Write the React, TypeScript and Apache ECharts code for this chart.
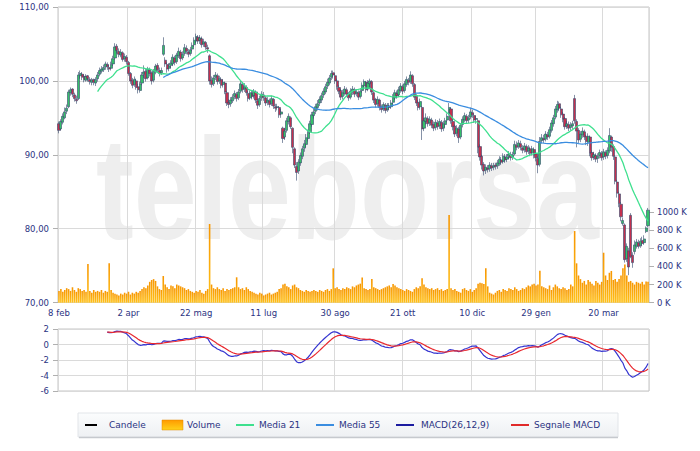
import React, { useEffect, useRef } from "react";
import * as echarts from "echarts";

// [open, close, low, high] per trading day
const CANDLES: number[][] = [
  [94.2,93.3,92.9,94.5],[93.5,94.5,93.3,94.8],[94.4,95.2,94.1,95.6],[95.0,95.8,94.8,96.4],[95.9,96.3,95.5,96.8],
  [96.5,98.5,96.3,98.8],[98.4,98.8,98.0,99.1],[98.9,98.2,97.8,99.0],[98.1,97.6,97.2,98.4],[97.5,97.3,96.9,98.0],
  [97.6,100.8,97.4,101.2],[100.7,101.0,100.3,101.4],[100.9,100.5,100.1,101.2],[100.6,100.2,99.8,100.9],[100.1,100.6,99.9,100.9],
  [100.7,100.3,99.9,100.8],[100.2,99.9,99.5,100.5],[99.8,100.1,99.4,100.4],[100.2,99.8,99.4,100.3],[99.7,100.2,99.3,100.5],
  [100.3,100.8,99.9,101.2],[100.9,101.4,100.6,101.8],[101.3,101.6,101.0,102.0],[101.5,101.8,101.2,102.2],[101.9,102.3,101.5,102.6],
  [102.2,101.9,101.5,102.5],[101.8,101.6,101.2,102.2],[101.7,102.2,101.4,102.6],[102.3,103.0,102.0,103.4],[103.1,104.6,102.9,105.1],
  [104.7,104.1,103.7,105.0],[104.0,103.6,103.2,104.4],[103.5,103.9,103.2,104.3],[103.8,102.9,102.6,104.0],[103.0,103.3,102.6,103.7],
  [103.2,102.6,102.2,103.5],[102.5,101.0,100.7,102.7],[101.0,100.0,99.6,101.2],[100.1,99.4,99.0,100.4],[99.5,100.2,99.2,100.6],
  [100.0,99.1,98.8,100.3],[99.2,98.8,98.3,99.6],[98.7,99.6,98.4,99.9],[99.7,100.8,99.4,101.2],[100.9,101.2,100.4,102.1],
  [101.3,100.3,99.9,101.6],[100.4,101.6,100.2,101.9],[101.5,101.0,100.6,101.8],[101.1,100.0,99.5,101.3],[100.1,101.3,99.8,101.6],
  [101.2,102.0,100.9,102.3],[102.1,101.5,101.2,102.4],[101.4,101.0,100.6,101.8],[101.1,101.4,100.8,101.8],[103.6,104.8,103.4,105.9],
  [102.8,102.3,101.9,103.2],[102.2,101.6,101.1,102.5],[101.7,102.0,101.3,102.4],[102.1,102.4,101.7,102.8],[102.3,103.2,102.0,103.6],
  [103.1,102.5,102.1,103.4],[102.6,103.5,102.3,103.8],[103.4,104.0,103.1,104.5],[103.9,103.0,102.6,104.2],[103.1,103.6,102.8,104.0],
  [103.7,104.5,103.4,105.0],[104.4,104.0,103.6,104.8],[103.9,103.6,103.2,104.3],[103.7,104.2,103.4,104.6],[104.3,104.8,104.0,105.2],
  [104.9,105.5,104.6,105.9],[105.4,106.0,105.1,106.4],[105.9,105.4,105.0,106.2],[105.5,105.8,105.0,106.2],[105.7,104.9,104.5,106.0],
  [105.0,105.3,104.6,105.7],[105.2,104.6,104.2,105.4],[104.5,104.3,103.8,104.9],[103.4,100.0,99.5,103.6],[100.1,99.5,99.1,100.6],
  [99.6,100.4,99.3,100.8],[100.5,100.8,100.1,101.2],[100.7,99.9,99.5,101.0],[100.0,100.3,99.6,100.7],[100.2,99.4,99.0,100.5],
  [99.5,99.8,99.1,100.2],[99.7,98.5,98.2,99.9],[98.4,97.0,96.6,98.6],[97.1,96.8,96.3,97.5],[96.9,97.4,96.5,97.8],
  [97.3,97.8,97.0,98.2],[97.9,98.3,97.5,98.7],[98.2,97.6,97.2,98.5],[97.7,98.5,97.4,98.9],[98.6,99.6,98.3,100.0],
  [99.5,98.8,98.4,99.8],[98.9,99.2,98.5,99.7],[99.1,98.4,98.0,99.4],[98.3,97.6,97.2,98.6],[97.7,98.4,97.4,98.7],
  [98.3,97.9,97.5,98.7],[98.0,98.6,97.6,98.9],[98.5,97.4,97.0,98.7],[97.3,96.7,96.2,97.6],[96.8,97.6,96.5,98.0],
  [97.7,98.2,97.3,98.6],[98.1,97.8,97.3,98.5],[97.7,97.0,96.6,98.0],[97.1,97.4,96.7,97.8],[97.3,96.8,96.4,97.6],
  [96.9,97.6,96.6,98.0],[97.5,96.6,96.2,97.7],[96.5,96.3,95.8,96.9],[96.4,96.5,96.0,96.9],[96.4,95.4,95.0,96.6],
  [95.5,95.8,95.0,96.2],[93.6,92.2,91.6,93.8],[92.4,93.2,92.0,93.6],[93.3,94.6,93.0,95.0],[94.5,95.2,94.1,95.6],
  [95.0,93.8,93.5,95.2],[93.6,91.0,90.2,93.7],[90.8,88.6,88.2,91.0],[88.4,87.6,86.5,89.0],[87.8,89.0,87.4,89.4],
  [88.9,89.9,88.5,90.3],[89.8,90.8,89.4,91.2],[90.9,91.5,90.4,92.0],[91.4,92.3,91.0,92.8],[92.2,93.0,91.8,93.4],
  [93.1,94.2,92.8,94.6],[94.1,95.4,93.8,95.8],[95.3,95.8,94.9,96.2],[95.9,96.5,95.5,96.9],[96.4,96.9,96.0,97.4],
  [97.0,97.5,96.6,97.9],[97.4,98.0,97.0,98.4],[98.1,98.6,97.7,99.0],[98.5,99.2,98.2,99.6],[99.3,99.8,98.9,100.3],
  [99.7,100.4,99.4,100.8],[100.5,101.0,100.1,101.4],[101.1,100.8,100.3,101.4],[100.7,100.0,99.6,101.0],[100.0,99.2,98.8,100.3],
  [99.1,98.6,98.2,99.4],[98.7,97.8,97.4,98.9],[97.9,98.4,97.5,98.8],[98.3,98.9,98.0,99.3],[98.8,98.2,97.8,99.1],
  [98.3,97.7,97.3,98.5],[97.8,98.6,97.5,99.0],[98.5,98.9,98.1,99.3],[98.8,98.2,97.8,99.1],[98.3,98.5,97.9,98.9],
  [98.4,97.8,97.4,98.7],[97.9,98.6,97.6,99.0],[98.7,99.4,98.4,99.8],[99.3,99.9,99.0,100.2],[99.8,98.8,98.4,100.0],
  [98.9,99.7,98.6,100.1],[99.6,100.0,99.1,100.3],[99.9,98.5,98.1,100.1],[98.4,97.4,97.0,98.6],[97.5,96.8,96.4,97.7],
  [96.9,97.5,96.5,97.9],[97.4,96.4,96.0,97.6],[96.5,96.1,95.7,96.8],[96.2,96.8,95.9,97.1],[96.7,96.0,95.6,97.0],
  [96.1,96.7,95.8,97.0],[96.6,96.4,96.0,97.0],[96.5,97.0,96.2,97.4],[97.1,97.8,96.8,98.2],[97.7,98.4,97.4,98.8],
  [98.3,98.0,97.6,98.7],[98.1,98.8,97.8,99.2],[98.7,99.3,98.4,99.7],[99.2,98.6,98.2,99.5],[98.7,99.6,98.4,100.0],
  [99.5,100.2,99.2,100.6],[100.1,99.8,99.4,100.4],[99.9,100.8,99.6,101.3],[100.7,99.6,99.2,100.9],[99.5,97.8,97.4,99.7],
  [97.9,97.0,96.6,98.2],[97.1,96.4,96.0,97.4],[96.5,97.2,96.1,97.6],[96.4,93.5,92.0,96.6],[93.6,94.6,93.2,95.0],
  [94.5,95.0,94.1,95.6],[94.9,94.2,93.8,95.2],[94.3,94.8,93.9,95.2],[94.7,94.0,93.6,95.0],[94.1,93.6,93.2,94.5],
  [93.7,94.4,93.3,94.8],[94.3,93.8,93.4,94.7],[93.9,94.5,93.5,94.9],[94.4,93.5,93.1,94.7],[93.6,94.2,93.2,94.6],
  [94.1,94.6,93.7,95.0],[94.7,95.2,94.4,95.6],[95.6,96.4,95.3,97.0],[96.2,94.6,94.2,96.4],[94.5,93.8,93.3,94.8],
  [93.9,92.8,92.4,94.1],[92.9,93.6,92.5,94.0],[93.5,92.3,91.6,93.8],[92.4,94.0,92.1,94.3],[94.1,94.8,93.7,95.2],
  [94.7,95.3,94.4,95.7],[95.2,94.6,94.2,95.5],[94.7,95.0,94.3,95.4],[95.1,95.8,94.8,96.4],[95.7,95.4,95.0,96.1],
  [95.3,94.7,94.3,95.6],[94.8,94.9,94.2,95.3],[94.6,91.0,90.2,94.8],[91.1,89.7,89.2,91.4],[89.8,88.6,88.0,90.0],
  [88.7,87.8,87.2,89.0],[87.9,88.3,87.4,88.7],[88.2,88.0,87.6,88.6],[88.1,88.6,87.7,89.0],[88.5,88.2,87.8,88.9],
  [88.3,88.5,87.9,88.9],[88.6,88.4,88.0,88.9],[88.5,88.9,88.1,89.3],[88.8,89.4,88.5,89.8],[89.3,89.0,88.6,89.7],
  [89.1,89.8,88.8,90.2],[89.7,89.3,88.9,90.1],[89.4,89.7,89.0,90.1],[89.8,90.1,89.4,90.5],[90.0,89.6,89.2,90.4],
  [89.7,90.0,89.3,90.4],[90.1,91.4,89.9,91.9],[91.3,91.0,90.6,91.8],[91.1,91.6,90.8,92.0],[91.5,91.0,90.6,91.9],
  [90.9,90.6,90.2,91.3],[90.7,91.2,90.3,91.6],[91.1,90.4,90.0,91.4],[90.5,90.9,90.1,91.3],[90.8,90.2,89.8,91.1],
  [90.3,90.8,89.9,91.2],[90.7,90.0,89.5,91.0],[90.1,89.6,89.1,90.4],[89.5,88.6,87.5,89.8],[88.7,91.8,88.4,92.4],
  [91.9,92.3,91.5,92.8],[92.2,92.0,91.6,92.7],[92.1,92.8,91.8,93.2],[92.7,92.4,92.0,93.1],[92.5,93.4,92.2,93.8],
  [93.3,94.3,93.0,94.7],[94.2,95.0,93.8,95.4],[95.1,96.2,94.8,96.6],[96.1,96.8,95.7,97.3],[96.9,96.3,95.9,97.2],
  [96.2,95.4,95.0,96.5],[95.5,94.8,94.4,95.8],[94.9,93.8,93.4,95.1],[93.9,94.2,93.5,94.6],[94.1,93.6,93.2,94.5],
  [93.7,94.0,93.3,94.4],[93.9,94.2,93.5,94.6],[97.6,94.6,94.2,98.1],[94.5,93.2,91.0,94.8],[93.3,92.0,91.6,93.6],
  [92.1,92.8,91.7,93.2],[92.7,93.2,92.3,93.7],[93.1,92.4,92.0,93.4],[92.5,91.8,91.3,92.7],[91.7,92.5,91.2,92.9],
  [92.4,90.2,89.8,92.6],[90.3,89.6,89.2,90.6],[89.7,90.0,89.3,90.4],[89.9,89.4,89.0,90.2],[89.5,89.8,88.9,90.2],
  [89.9,90.3,89.5,90.7],[90.2,89.6,89.2,90.5],[89.7,90.4,89.3,90.8],[90.3,89.8,89.4,90.6],[89.9,90.6,89.5,91.0],
  [90.5,92.6,90.2,93.6],[92.4,91.0,90.4,92.6],[91.1,89.8,89.3,91.4],[89.7,86.4,86.0,89.9],[86.3,84.8,84.2,86.6],
  [84.7,83.4,82.9,85.0],[83.3,81.6,81.0,83.6],[80.7,81.1,80.4,81.5],[80.5,75.8,75.4,80.7],[75.9,77.6,75.5,78.0],
  [77.0,74.8,73.7,77.4],[81.8,76.2,76.0,82.1],[76.4,75.4,74.7,76.8],[76.9,77.8,76.5,78.4],[77.6,78.2,77.3,78.6],
  [78.1,77.6,77.3,78.5],[77.7,78.3,77.4,78.7],[78.4,78.0,77.6,78.9],[78.1,78.6,77.8,79.1],[79.6,80.1,79.4,80.3],
  [80.4,82.5,80.2,82.8]
];

// volume in thousands
const VOLUME: number[] = [
  130,150,120,140,160,150,130,170,140,120,
  160,150,130,140,120,427,130,110,140,120,
  130,120,140,110,130,120,434,140,110,100,
  90,80,100,90,110,100,120,90,110,100,
  120,110,130,150,170,160,190,230,250,260,
  240,180,150,140,294,200,170,150,190,180,
  160,200,190,180,170,160,140,150,130,120,
  110,130,120,140,110,100,130,150,868,200,
  160,150,170,150,140,160,130,150,140,150,
  160,170,280,170,150,160,140,170,150,130,
  120,110,100,90,110,100,80,90,100,110,
  90,100,110,120,150,160,200,210,180,170,
  150,190,200,170,160,140,130,120,140,130,
  120,130,140,130,120,140,130,120,140,150,
  130,150,379,160,170,150,140,160,150,170,
  160,150,180,170,190,200,210,278,160,150,
  140,150,262,170,160,150,140,150,160,170,
  180,190,170,206,190,170,160,150,140,130,
  150,140,130,120,150,170,160,180,270,200,
  170,160,150,160,140,150,160,140,150,130,
  140,150,967,160,140,150,130,120,110,150,
  160,140,130,150,120,140,160,210,220,215,
  206,379,180,110,100,90,110,130,140,120,
  150,140,130,160,150,140,170,150,130,140,
  160,150,170,190,180,200,210,190,200,353,
  180,170,160,150,190,140,170,200,180,160,
  150,170,160,140,150,200,180,790,434,300,
  260,220,240,200,250,230,210,190,240,220,
  200,230,551,300,250,330,350,250,260,230,
  260,300,380,420,300,230,240,220,200,230,
  220,210,230,200,235,230
];

const TICK_LABELS = ["8 feb", "2 apr", "22 mag", "11 lug", "30 ago", "21 ott", "10 dic", "29 gen", "20 mar"];
const TICK_INDEX = [0, 36, 71, 106, 143, 178, 214, 247, 282];

const PRICE_TICKS = { min: 70, max: 110, interval: 10 };
const VOLUME_TICKS = { min: 0, max: 1000, interval: 200 };
const MACD_TICKS = { min: -6, max: 2, interval: 2 };

const TEXT = "#2b3382";
const FONT = '"DejaVu Sans", Verdana, sans-serif';

function sma(values: number[], n: number): (number | string)[] {
  const out: (number | string)[] = [];
  let sum = 0;
  for (let i = 0; i < values.length; i++) {
    sum += values[i];
    if (i >= n) sum -= values[i - n];
    out.push(i >= n - 1 ? +(sum / n).toFixed(3) : "-");
  }
  return out;
}

function ema(values: number[], n: number): number[] {
  const k = 2 / (n + 1);
  const out: number[] = [];
  let prev = values[0];
  for (let i = 0; i < values.length; i++) {
    prev = i === 0 ? values[0] : prev + k * (values[i] - prev);
    out.push(prev);
  }
  return out;
}

export default function App() {
  const ref = useRef<HTMLDivElement>(null);

  useEffect(() => {
    if (!ref.current) return;
    const chart = echarts.init(ref.current, undefined, { renderer: "svg" });

    const closes = CANDLES.map((r) => r[1]);
    const cats = CANDLES.map((_, i) => String(i));
    const ma21 = sma(closes, 21);
    const ma55 = sma(closes, 55);
    const e12 = ema(closes, 12);
    const e26 = ema(closes, 26);
    const start = 25;
    const macd: (number | string)[] = [];
    const signal: (number | string)[] = [];
    let s = 0;
    for (let i = 0; i < closes.length; i++) {
      if (i < start) {
        macd.push("-");
        signal.push("-");
        continue;
      }
      const m = e12[i] - e26[i];
      s = i === start ? m : s + (2 / 10) * (m - s);
      macd.push(+m.toFixed(4));
      signal.push(+s.toFixed(4));
    }

    const isTick = (idx: number) => TICK_INDEX.indexOf(idx) >= 0;
    const labelOf = (idx: number) => {
      const k = TICK_INDEX.indexOf(idx);
      return k >= 0 ? TICK_LABELS[k] : "";
    };

    const axisText = { color: TEXT, fontSize: 8.5, fontFamily: FONT };
    const gridLine = { lineStyle: { color: "#dadada", width: 1 } };

    const legendY = 425;
    const legendItems = [
      { kind: "line", color: "#000000", x1: 85, x2: 97, text: "Candele", tx: 109 },
      { kind: "rect", color: "", x1: 162, x2: 183, text: "Volume", tx: 187 },
      { kind: "line", color: "#3ee08e", x1: 236, x2: 254, text: "Media 21", tx: 259 },
      { kind: "line", color: "#3a8de0", x1: 316, x2: 334, text: "Media 55", tx: 339 },
      { kind: "line", color: "#1c1ca0", x1: 396, x2: 414, text: "MACD(26,12,9)", tx: 421 },
      { kind: "line", color: "#e02a2a", x1: 511, x2: 529, text: "Segnale MACD", tx: 534 },
    ];
    const legendGraphics: any[] = [
      {
        type: "rect",
        shape: { x: 78, y: 413, width: 540, height: 24 },
        style: {
          fill: new echarts.graphic.LinearGradient(0, 0, 0, 1, [
            { offset: 0, color: "#fbfcfd" },
            { offset: 1, color: "#eef0f3" },
          ]),
          stroke: "#e2e5e9",
          lineWidth: 1,
        },
        z: 10,
      },
      {
        type: "line",
        shape: { x1: 79, y1: 437.5, x2: 618, y2: 437.5 },
        style: { stroke: "#c6c9ce", lineWidth: 1.5 },
        z: 11,
      },
    ];
    legendItems.forEach((it) => {
      if (it.kind === "line") {
        legendGraphics.push({
          type: "line",
          shape: { x1: it.x1, y1: legendY, x2: it.x2, y2: legendY },
          style: { stroke: it.color, lineWidth: 2 },
          z: 12,
        });
      } else {
        legendGraphics.push({
          type: "rect",
          shape: { x: it.x1, y: legendY - 5, width: it.x2 - it.x1, height: 10 },
          style: {
            fill: new echarts.graphic.LinearGradient(0, 0, 0, 1, [
              { offset: 0, color: "#ff9a00" },
              { offset: 1, color: "#ffd21a" },
            ]),
            stroke: "#e08a00",
            lineWidth: 0.5,
          },
          z: 12,
        });
      }
      legendGraphics.push({
        type: "text",
        x: it.tx,
        y: legendY,
        style: {
          text: it.text,
          fill: TEXT,
          font: `9px ${FONT}`,
          textAlign: "left",
          textVerticalAlign: "middle",
          align: "left",
          verticalAlign: "middle",
        },
        z: 12,
      });
    });

    const option: any = {
      animation: false,
      backgroundColor: "#ffffff",
      graphic: [
        {
          type: "text",
          x: 96,
          y: 189,
          scaleX: 0.78,
          z: -10,
          silent: true,
          style: {
            text: "teleborsa",
            fill: "#eeeeee",
            font: 'bold 145px "Liberation Sans", Arial, sans-serif',
            textAlign: "left",
            textVerticalAlign: "middle",
            align: "left",
            verticalAlign: "middle",
          },
        },
        ...legendGraphics,
      ],
      grid: [
        { left: 58, top: 7, width: 591, height: 295.5, show: true, borderColor: "#c4c4c4", borderWidth: 1, backgroundColor: "transparent" },
        { left: 58, top: 212, width: 591, height: 90.7, show: false },
        { left: 58, top: 329, width: 591, height: 62, show: true, borderColor: "#c4c4c4", borderWidth: 1, backgroundColor: "transparent" },
      ],
      xAxis: [
        {
          type: "category",
          gridIndex: 0,
          data: cats,
          boundaryGap: true,
          axisLine: { show: false },
          axisTick: { show: false },
          axisLabel: { ...axisText, interval: (i: number) => isTick(i), formatter: (_v: string, i: number) => labelOf(i), margin: 6, showMinLabel: true },
          splitLine: { show: true, interval: (i: number) => isTick(i), ...gridLine },
        },
        {
          type: "category",
          gridIndex: 1,
          data: cats,
          boundaryGap: true,
          show: false,
        },
        {
          type: "category",
          gridIndex: 2,
          data: cats,
          boundaryGap: true,
          axisLine: { show: false },
          axisTick: { show: false },
          axisLabel: { show: false },
          splitLine: { show: true, interval: (i: number) => isTick(i), ...gridLine },
        },
      ],
      yAxis: [
        {
          type: "value",
          gridIndex: 0,
          min: PRICE_TICKS.min,
          max: PRICE_TICKS.max,
          interval: PRICE_TICKS.interval,
          axisLine: { show: false },
          axisTick: { show: true, length: 5, lineStyle: { color: "#b0b0b0" } },
          axisLabel: { ...axisText, margin: 9, formatter: (v: number) => v.toFixed(2).replace(".", ",") },
          splitLine: { show: true, ...gridLine },
        },
        {
          type: "value",
          gridIndex: 1,
          position: "right",
          min: VOLUME_TICKS.min,
          max: VOLUME_TICKS.max,
          interval: VOLUME_TICKS.interval,
          axisLine: { show: false },
          axisTick: { show: true, length: 5, lineStyle: { color: "#b0b0b0" } },
          axisLabel: { ...axisText, margin: 8, formatter: (v: number) => `${v} K` },
          splitLine: { show: false },
        },
        {
          type: "value",
          gridIndex: 2,
          min: MACD_TICKS.min,
          max: MACD_TICKS.max,
          interval: MACD_TICKS.interval,
          axisLine: { show: false },
          axisTick: { show: true, length: 5, lineStyle: { color: "#b0b0b0" } },
          axisLabel: { ...axisText, margin: 9 },
          splitLine: { show: true, ...gridLine },
        },
      ],
      series: [
        {
          name: "Volume",
          type: "bar",
          xAxisIndex: 1,
          yAxisIndex: 1,
          data: VOLUME,
          barWidth: "82%",
          itemStyle: {
            color: new echarts.graphic.LinearGradient(0, 0, 0, 1, [
              { offset: 0, color: "#f79600" },
              { offset: 1, color: "#ffc21a" },
            ]),
          },
          z: 1,
        },
        {
          name: "Candele",
          type: "candlestick",
          xAxisIndex: 0,
          yAxisIndex: 0,
          data: CANDLES,
          barWidth: 2.6,
          itemStyle: {
            color: "#35c06a",
            color0: "#c4304e",
            borderColor: "#34486c",
            borderColor0: "#34486c",
            borderWidth: 0.6,
          },
          z: 3,
        },
        {
          name: "Media 21",
          type: "line",
          xAxisIndex: 0,
          yAxisIndex: 0,
          data: ma21,
          symbol: "none",
          lineStyle: { color: "#3ee08e", width: 1.3 },
          z: 4,
        },
        {
          name: "Media 55",
          type: "line",
          xAxisIndex: 0,
          yAxisIndex: 0,
          data: ma55,
          symbol: "none",
          lineStyle: { color: "#3a8de0", width: 1.3 },
          z: 4,
        },
        {
          name: "MACD(26,12,9)",
          type: "line",
          xAxisIndex: 2,
          yAxisIndex: 2,
          data: macd,
          symbol: "none",
          lineStyle: { color: "#3434d0", width: 1.2 },
          z: 4,
        },
        {
          name: "Segnale MACD",
          type: "line",
          xAxisIndex: 2,
          yAxisIndex: 2,
          data: signal,
          symbol: "none",
          lineStyle: { color: "#e8282e", width: 1.2 },
          z: 5,
        },
      ],
    };

    chart.setOption(option);
    return () => chart.dispose();
  }, []);

  return (
    <div
      ref={ref}
      style={{ position: "absolute", left: 0, top: 0, width: 700, height: 451, background: "#fff" }}
    />
  );
}
